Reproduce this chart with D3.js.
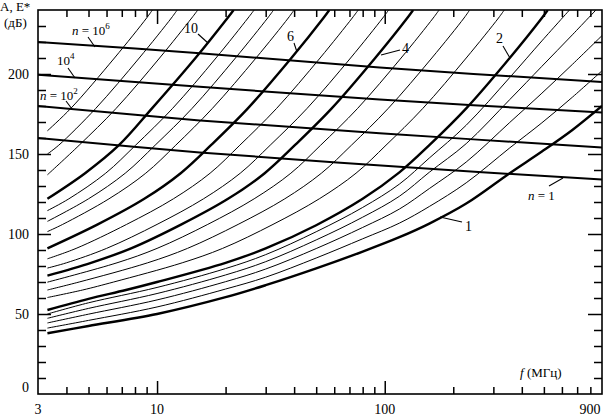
<!DOCTYPE html>
<html><head><meta charset="utf-8">
<script src="https://cdn.jsdelivr.net/npm/d3@7"></script>
<style>
body{margin:0;background:#fff}
svg{display:block}
text{font-family:"Liberation Serif","Times New Roman",serif;fill:#000}
</style>
</head><body>
<svg id="chart" width="610" height="416"></svg>
<script>
// ---- axes ----
const xDomain = [3, 900];
const yDomain = [0, 240];
const xTickLabels = [3, 10, 100, 900];
const xMinorTicks = [4,5,6,7,8,9,20,30,40,50,60,70,80,90,200,300,400,500,600,700,800];
const xMajorTicks = [10, 100];
const yTickLabels = [0, 50, 100, 150, 200];
const yMinorTicks = [10,20,30,40,60,70,80,90,110,120,130,140,160,170,180,190,210,220,230];

// ---- attenuation curves A(f), [f MHz, dB] (bold = labelled) ----
const curve1  = [[3.3,38],[5,42.5],[10,50],[20,60.5],[30,68],[50,78.5],[80,89],[116,98],[157,106.5],[228,119],[354,138],[490,151.5],[667,165],[900,180]];
const curve1a = [[3.3,41.2],[5,46],[10,54.4],[20,65.6],[30,73],[50,85],[80,97],[116,106.8],[157,117.2],[228,132],[354,153.8],[490,169.5],[667,185.5],[900,202]];
const curve1b = [[3.3,44.4],[5,49.9],[10,58.8],[20,70.2],[30,78.1],[50,90.9],[80,104.1],[116,115.6],[157,128.4],[228,145],[354,169.7],[490,188],[667,206],[900,224]];
const curve1c = [[3.3,47.3],[5,53.5],[10,62.8],[20,74.4],[30,82.7],[50,96.3],[80,110.5],[116,123.6],[157,138.6],[228,156.5],[354,184],[490,204.8],[667,224.5],[900,244]];
const curve1d = [[3.3,50],[5,57],[10,66.6],[20,78.4],[30,87.1],[50,101.4],[80,116.6],[116,131.2],[157,147.5],[228,168],[354,197.8],[490,220.7],[667,242]];
const curve2  = [[3.3,52.5],[5,59.5],[7.3,65],[10,70],[20,82],[30,91],[50,105.5],[80,122],[116,138.5],[157,155.5],[228,178.5],[354,210],[490,235],[520,240]];
const curve2a = [[3.3,60.3],[4.71,65],[6.45,70],[12.9,82],[19.4,91],[32.3,106],[51.6,122],[74.8,138],[101.3,155.5],[147,178.5],[228,210],[316,235],[335,240]];
const curve2b = [[3.3,65],[4.55,70],[9.09,82],[13.6,91],[22.7,106],[36.4,122],[52.7,138],[71.4,155.5],[103.6,178.5],[161,210],[223,235],[236,240]];
const curve2c = [[3.3,69.9],[6.67,82],[10,91],[16.7,106],[26.7,122],[38.7,138],[52.3,155.5],[76,178.5],[118,210],[163.3,235],[173.3,240]];
const curve4  = [[3.3,74],[5.13,82],[7.69,91],[12.8,106],[20.5,122],[29.7,138],[40.3,155.5],[58.5,178.5],[90.8,210],[125.6,235],[133.3,240]];
const curve4a = [[3.3,78.7],[4,82],[6,91],[10,106],[16,122],[23.2,138],[31.4,155.5],[45.6,178.5],[70.8,210],[98,235],[104,240]];
const curve4b = [[3.3,84.5],[4.41,91],[7.35,106],[11.8,122],[17.1,138],[23.1,155.5],[33.5,178.5],[52,210],[72,235],[76.5,240]];
const curve6  = [[3.3,91],[5.49,106],[8.79,122],[12.7,138],[17.25,155.5],[25.05,178.5],[38.9,210],[53.8,235],[57.1,240]];
const curve6a = [[3.3,101.5],[3.85,106],[6.15,122],[8.92,138],[12.08,155.5],[17.5,178.5],[27.2,210],[37.7,235],[40,240]];
const curve6b = [[3.3,107.9],[5,122],[7.25,138],[9.81,155.5],[14.25,178.5],[22.1,210],[30.6,235],[32.5,240]];
const curve6c = [[3.3,114.6],[4.1,122],[5.95,138],[8.05,155.5],[11.7,178.5],[18.15,210],[25.1,235],[26.7,240]];
const curve10 = [[3.3,122],[4.83,138],[6.8,155.5],[9.5,178.5],[14.75,210],[20.4,235],[21.7,240]];
const curve10a= [[3.3,137],[4.55,155.5],[6.61,178.5],[10.26,210],[14.2,235],[15.1,240]];
const curve10b= [[3.3,150],[3.7,155.5],[5.38,178.5],[8.35,210],[11.56,235],[12.26,240]];
const curve10c= [[3.3,164.5],[4.18,178.5],[6.5,210],[9,235],[9.54,240]];
const boldCurves = [curve1, curve2, curve4, curve6, curve10];
const thinCurves = [curve1a,curve1b,curve1c,curve1d,curve2a,curve2b,curve2c,curve4a,curve4b,curve6a,curve6b,curve6c,curve10a,curve10b,curve10c];

// ---- field-strength lines E*(f) for n ----
const lineN1 = [[3,160],[15.4,151],[116,142],[900,134]];
const lineN2 = [[3,180],[15.4,171],[95,163],[900,154]];
const lineN4 = [[3,199.5],[15.4,192],[95,184],[900,176]];
const lineN6 = [[3,220],[15.4,213],[95,204],[900,195]];
const nLines = [lineN1, lineN2, lineN4, lineN6];

const svg = d3.select('#chart');
const L = 38, R = 602, T = 10, B = 394;
const x = d3.scaleLog().domain(xDomain).range([L, R]);
const y = d3.scaleLinear().domain(yDomain).range([B, T]);

svg.append('clipPath').attr('id','clip').append('rect')
  .attr('x',L).attr('y',T).attr('width',R-L).attr('height',B-T);

const line = d3.line().x(d=>x(d[0])).y(d=>y(d[1])).curve(d3.curveCatmullRom.alpha(0.5));
const g = svg.append('g').attr('clip-path','url(#clip)');
g.selectAll('path.thin').data(thinCurves).join('path').attr('class','thin')
  .attr('d',line).attr('fill','none').attr('stroke','#000').attr('stroke-width',1);
g.selectAll('path.bold').data(boldCurves).join('path').attr('class','bold')
  .attr('d',line).attr('fill','none').attr('stroke','#000').attr('stroke-width',2.4);
g.selectAll('path.n').data(nLines).join('path').attr('class','n')
  .attr('d',line).attr('fill','none').attr('stroke','#000').attr('stroke-width',2);

// ---- frame & ticks ----
svg.append('rect').attr('x',L).attr('y',T).attr('width',R-L).attr('height',B-T)
  .attr('fill','none').attr('stroke','#000').attr('stroke-width',1.6);

const axBottom = d3.axisBottom(x).tickValues(xMinorTicks).tickSize(-7).tickFormat('');
const axBottomMaj = d3.axisBottom(x).tickValues(xMajorTicks).tickSize(-13).tickFormat('');
const axTop = d3.axisTop(x).tickValues(xMinorTicks).tickSize(-7).tickFormat('');
const axTopMaj = d3.axisTop(x).tickValues(xMajorTicks).tickSize(-14).tickFormat('');
const axLeft = d3.axisLeft(y).tickValues(yMinorTicks).tickSize(-8).tickFormat('');
const axLeftMaj = d3.axisLeft(y).tickValues(yTickLabels.slice(1)).tickSize(-13).tickFormat('');
const axRight = d3.axisRight(y).tickValues(yMinorTicks).tickSize(-8).tickFormat('');
const axRightMaj = d3.axisRight(y).tickValues(yTickLabels.slice(1)).tickSize(-14).tickFormat('');
[[axBottom,`translate(0,${B})`],[axBottomMaj,`translate(0,${B})`],[axTop,`translate(0,${T})`],[axTopMaj,`translate(0,${T})`],
 [axLeft,`translate(${L},0)`],[axLeftMaj,`translate(${L},0)`],[axRight,`translate(${R},0)`],[axRightMaj,`translate(${R},0)`]]
 .forEach(([ax,tr])=>{
   const a = svg.append('g').attr('transform',tr).call(ax);
   a.select('.domain').remove();
   a.selectAll('line').attr('stroke','#000').attr('stroke-width',1.5);
 });

// tick labels
svg.selectAll('text.xl').data(xTickLabels).join('text').attr('class','xl')
  .attr('x',d=>d===900? x(d)-12 : x(d)).attr('y',414).attr('text-anchor','middle')
  .attr('font-size',14).text(d=>d);
svg.selectAll('text.yl').data(yTickLabels).join('text').attr('class','yl')
  .attr('x',29).attr('y',d=>d===0? y(d)-2 : y(d)+5).attr('text-anchor','end')
  .attr('font-size',14).text(d=>d);

// axis titles
svg.append('text').attr('x',0).attr('y',11).attr('font-size',13).text('A, E*');
svg.append('text').attr('x',4).attr('y',27).attr('font-size',13).text('(дБ)');
const ft = svg.append('text').attr('x',520).attr('y',377).attr('font-size',13);
ft.append('tspan').attr('font-style','italic').text('f');
ft.append('tspan').text(' (МГц)');

// curve labels with leaders
const leaders = [[[440,217],[462,222]],[[510,58],[503,46]],[[381,55],[400,50]],[[297,52],[294,43]],[[208,43],[198,34]],
  [[563,178],[549,186]],[[95,47],[88,37]],[[75,78],[68,68]],[[72,109],[66,101]]];
svg.selectAll('path.lead').data(leaders).join('path').attr('class','lead')
  .attr('d',d=>d3.line()(d)).attr('stroke','#000').attr('stroke-width',1.1).attr('fill','none');
const curveLabels = [['1',465,231],['2',496,43],['4',402,53],['6',287,41],['10',184,33]];
svg.selectAll('text.cl').data(curveLabels).join('text').attr('class','cl')
  .attr('x',d=>d[1]).attr('y',d=>d[2]).attr('font-size',14).text(d=>d[0]);

function nLabel(xp, yp, withN, exp){
  const t = svg.append('text').attr('x',xp).attr('y',yp).attr('font-size',13);
  if(withN){ t.append('tspan').attr('font-style','italic').text('n'); t.append('tspan').text(' = '); }
  t.append('tspan').text(exp===null?'1':'10');
  if(exp!==null) t.append('tspan').attr('font-size',9).attr('dy',-6).text(exp);
}
nLabel(72,35,true,'6');
nLabel(57,65,false,'4');
nLabel(40,100,true,'2');
nLabel(528,200,true,null);
</script>
</body></html>
